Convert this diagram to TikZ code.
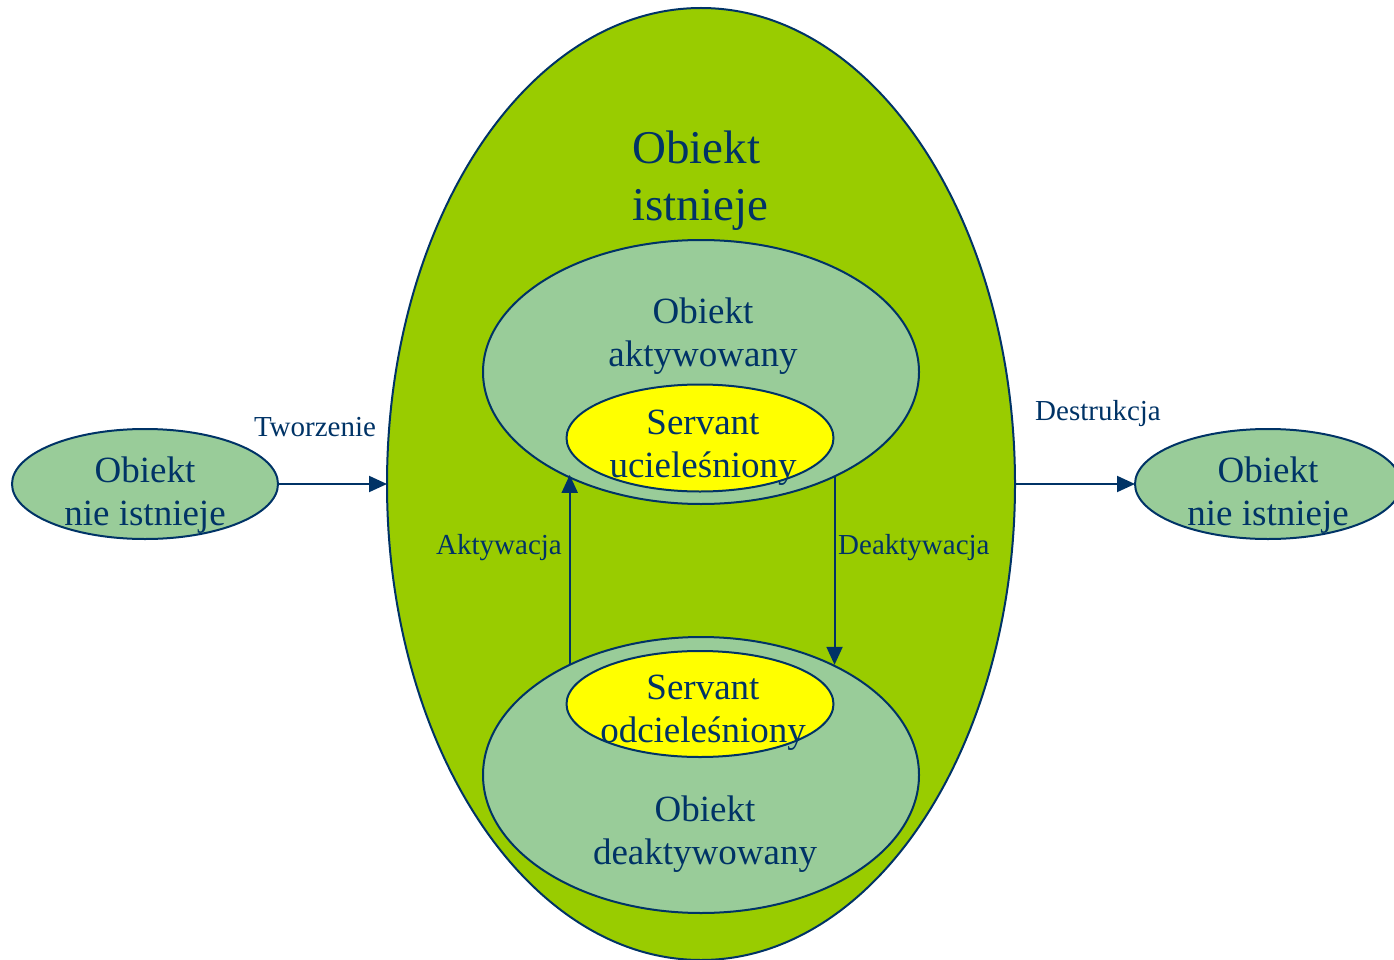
\documentclass[tikz,border=0pt]{standalone}
\usepackage{fontspec}
\setmainfont{Liberation Serif}
\usetikzlibrary{shapes.geometric,arrows.meta}
\definecolor{navy}{HTML}{003366}
\definecolor{lime}{HTML}{99CC00}
\definecolor{sage}{HTML}{99CC99}
\definecolor{lemon}{HTML}{FFFF00}
\begin{document}
\begin{tikzpicture}[x=1pt,y=-1pt,
  state/.style={ellipse,draw=navy,line width=2pt,inner sep=0pt,outer sep=0pt},
  bigtxt/.style={text=navy,font=\fontsize{47}{57}\selectfont,align=left,inner sep=0pt},
  midtxt/.style={text=navy,font=\fontsize{37}{43}\selectfont,align=center,inner sep=0pt},
  smalltxt/.style={text=navy,font=\fontsize{29}{34}\selectfont,inner sep=0pt},
  flow/.style={draw=navy,line width=2pt,-{Triangle[length=18pt,width=16pt]}}]
\useasboundingbox (0,0) rectangle (1394,960);

% state ellipses
\node[state,fill=lime,minimum width=628,minimum height=952] (exists) at (701,484) {};
\node[state,fill=sage,minimum width=436,minimum height=264] (active) at (701,372) {};
\node[state,fill=lemon,minimum width=267,minimum height=107] (incarn) at (700,438) {};
\node[state,fill=sage,minimum width=436,minimum height=276] (inactive) at (701,775) {};
\node[state,fill=lemon,minimum width=267,minimum height=106] (etherl) at (700,704) {};
\node[state,fill=sage,minimum width=266,minimum height=110] (before) at (145,484) {};
\node[state,fill=sage,minimum width=266,minimum height=110] (after) at (1268,484) {};

% state texts (anchored at the baseline of the last line)
\node[bigtxt,anchor=base west] (t-exists) at (632,221) {Obiekt\\istnieje};
\node[midtxt,anchor=base] (t-active) at (703,366) {Obiekt\\aktywowany};
\node[midtxt,anchor=base] (t-incarn) at (703,477) {Servant\\ucieleśniony};
\node[midtxt,anchor=base] (t-etherl) at (703,742) {Servant\\odcieleśniony};
\node[midtxt,anchor=base] (t-inactive) at (705,864) {Obiekt\\deaktywowany};
\node[midtxt,anchor=base] (t-before) at (145,525) {Obiekt\\nie istnieje};
\node[midtxt,anchor=base] (t-after) at (1268,525) {Obiekt\\nie istnieje};

% transitions
\draw[flow] (before.east) -- (exists.west);
\draw[flow] (exists.east) -- (after.west);
\draw[flow] (inactive.140.9) -- (inactive.140.9 |- active.217.8);
\draw[flow] (active.322) -- (active.322 |- inactive.40);

% transition labels
\node[smalltxt,anchor=base] (l-create) at (315,436) {Tworzenie};
\node[smalltxt,anchor=base] (l-destroy) at (1098,420) {Destrukcja};
\node[smalltxt,anchor=base east] (l-act) at (562,554) {Aktywacja};
\node[smalltxt,anchor=base west] (l-deact) at (838,554) {Deaktywacja};
\end{tikzpicture}
\end{document}
